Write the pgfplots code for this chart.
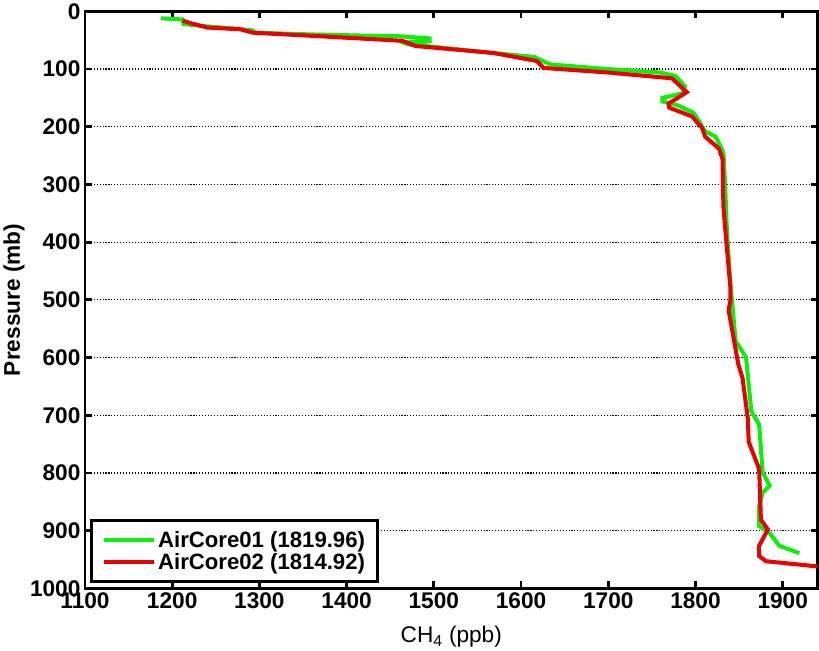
\documentclass[border=0pt]{standalone}
\usepackage{fontspec}
\setmainfont{Liberation Sans}
\usepackage{pgfplots}
\pgfplotsset{compat=1.18}
\definecolor{mgreen}{RGB}{10,240,10}
\definecolor{mred}{RGB}{235,0,0}
\begin{document}
\begin{tikzpicture}
\begin{axis}[
  scale only axis, width=725bp, height=571bp,
  xmin=1100, xmax=1940, ymin=0, ymax=1000, y dir=reverse,
  xtick={1100,1200,...,1900}, ytick={0,100,...,1000},
  xtick pos=both, ytick pos=both,
  ymajorgrids,
  grid style={black, line width=1.2bp, dash pattern=on 1.1bp off 1.8bp},
  axis line style={line width=2.8bp},
  tick style={black, line width=2.8bp}, major tick length=7bp, tick align=inside,
  /pgf/number format/assume math mode=true,
  /pgf/number format/set thousands separator={},
  tick label style={font=\fontsize{22.5}{26}\selectfont\bfseries},
  xticklabel style={yshift=-1bp},
  yticklabel style={xshift=-1bp},
  xlabel={CH\textsubscript{4} (ppb)},
  ylabel={Pressure (mb)},
  every axis x label/.style={at={(axis description cs:0.5,-0.094)}, anchor=base,
    font=\fontsize{22.5}{26}\selectfont},
  every axis y label/.style={at={(axis description cs:-0.097,0.5)}, anchor=center, rotate=90,
    font=\fontsize{22.5}{26}\selectfont\bfseries},
  legend style={at={(0.007,0.009)}, anchor=south west, draw=black, line width=2.8bp,
    font=\fontsize{22}{25}\selectfont\bfseries, cells={anchor=west}, row sep=0bp,
    inner xsep=10bp, inner ysep=9bp},
  legend image code/.code={\draw[#1] (0bp,0bp) -- (50bp,0bp);},
]
\addplot[mgreen, line width=4bp] coordinates {
(1187,12) (1212,14) (1213,22) (1240,26) (1280,31) (1292,33) (1296,37) (1360,40)
(1420,42) (1460,43) (1495,47) (1495,52) (1465,54) (1470,57) (1510,63) (1560,71)
(1615,79) (1622,84) (1634,92) (1700,100) (1760,106) (1777,112) (1788,130) (1785,142)
(1762,150) (1762,156) (1780,163) (1798,176) (1806,195) (1811,208) (1823,217) (1832,244)
(1834,300) (1836,380) (1840,471) (1846,571) (1858,600) (1864,693) (1873,716) (1877,799)
(1885,822) (1877,834) (1873,857) (1873,892) (1885,904) (1896,926) (1919,939)
};
\addlegendentry{AirCore01 (1819.96)}
\addplot[mred, line width=4bp] coordinates {
(1212,16) (1220,20) (1240,28) (1278,31) (1293,37) (1356,42) (1464,51) (1479,60)
(1568,72) (1618,86) (1626,98) (1700,106) (1773,116) (1790,140) (1769,160) (1770,167)
(1796,182) (1808,203) (1811,217) (1827,238) (1831,256) (1832,338) (1836,410) (1840,478)
(1840,501) (1838,518) (1849,611) (1854,636) (1860,706) (1861,746) (1873,793) (1875,881)
(1883,898) (1873,926) (1873,944) (1881,953) (1940,962)
};
\addlegendentry{AirCore02 (1814.92)}
\end{axis}
\end{tikzpicture}
\end{document}
